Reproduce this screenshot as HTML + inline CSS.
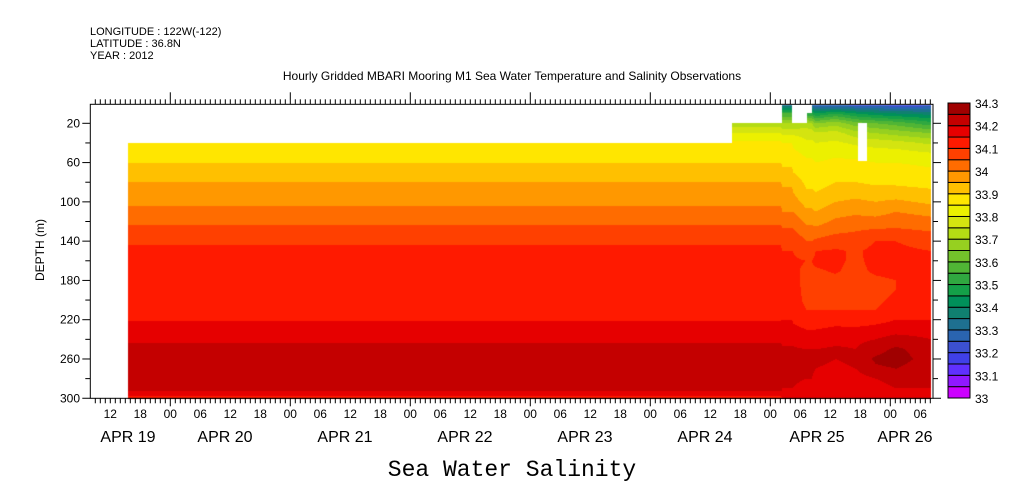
<!DOCTYPE html>
<html><head><meta charset="utf-8"><style>
body{margin:0;background:#fff;width:1009px;height:504px;overflow:hidden;position:relative;font-family:"Liberation Sans",sans-serif}
canvas,svg{position:absolute;left:0;top:0}
</style></head><body>
<canvas id="cv" width="1009" height="504"></canvas>
<svg id="sv" width="1009" height="504"></svg>
<script>
// ---- data ----
const depthNodes=[0,10,20,30,40,50,60,70,80,90,100,110,120,130,140,150,160,170,180,190,200,210,220,230,240,250,260,270,280,290,300];
const levelColors=["#cc00ff","#9018ff","#6030ff","#4040e8","#3c50d0","#2a64b0","#1e7090","#108070","#00905a","#14a048","#30a840","#50b535","#73c22b","#96d020","#b4dc14","#d4e410","#ecf000","#ffe600","#ffc000","#ff9800","#ff6c00","#ff4000","#ff1a00","#e60000","#c40000","#a00000"];
const levelMin=33.0, levelStep=0.05;
const cbLabels=["33","33.1","33.2","33.3","33.4","33.5","33.6","33.7","33.8","33.9","34","34.1","34.2","34.3"];
const profBase=[null,null,null,null,33.86,33.88,33.90,33.925,33.95,33.97,33.99,34.013,34.04,34.066,34.097,34.105,34.115,34.12,34.125,34.13,34.135,34.14,34.148,34.17,34.195,34.21,34.22,34.225,34.23,34.23,34.12];
const profS1=[null,null,33.72,33.80,33.86,33.88,33.90,33.925,33.95,33.97,33.99,34.013,34.04,34.066,34.097,34.105,34.115,34.12,34.125,34.13,34.135,34.14,34.148,34.17,34.195,34.21,34.22,34.225,34.23,34.23,34.12];
const profP1=[33.3,33.55,33.7,33.79,33.85,33.87,33.89,33.91,33.94,33.96,33.98,34.0,34.03,34.06,34.09,34.1,34.11,34.115,34.12,34.125,34.13,34.14,34.15,34.17,34.19,34.205,34.21,34.21,34.21,34.2,34.16];
const profP1b=[null,null,33.7,33.79,33.84,33.86,33.88,33.9,33.93,33.95,33.975,34.0,34.03,34.06,34.09,34.1,34.105,34.105,34.11,34.115,34.12,34.13,34.14,34.165,34.19,34.205,34.21,34.21,34.21,34.2,34.16];
const prof151a=[null,null,33.72,33.78,33.81,33.84,33.86,33.875,33.89,33.905,33.93,33.96,33.99,34.02,34.05,34.08,34.1,34.095,34.09,34.09,34.09,34.1,34.12,34.15,34.17,34.2,34.21,34.21,34.2,34.18,34.16];
const prof151b=[null,33.5,33.72,33.78,33.81,33.84,33.86,33.875,33.89,33.905,33.93,33.96,33.99,34.02,34.05,34.08,34.1,34.095,34.09,34.09,34.09,34.1,34.12,34.15,34.17,34.2,34.21,34.21,34.2,34.18,34.16];
const prof152=[33.25,33.5,33.7,33.78,33.81,33.84,33.86,33.875,33.89,33.905,33.93,33.96,33.99,34.02,34.05,34.08,34.1,34.095,34.09,34.09,34.09,34.1,34.12,34.15,34.17,34.2,34.21,34.21,34.2,34.18,34.16];
const prof155=[33.22,33.45,33.65,33.76,33.80,33.83,33.85,33.86,33.88,33.9,33.92,33.95,33.98,34.02,34.06,34.1,34.11,34.095,34.085,34.085,34.09,34.1,34.12,34.15,34.18,34.2,34.21,34.2,34.18,34.16,34.15];
const prof159=[33.2,33.5,33.68,33.77,33.81,33.84,33.86,33.88,33.9,33.92,33.95,33.98,34.01,34.04,34.08,34.105,34.11,34.105,34.09,34.085,34.09,34.1,34.13,34.16,34.19,34.205,34.2,34.19,34.17,34.16,34.15];
const prof163=[33.2,33.45,33.62,33.72,33.79,33.83,33.86,33.88,33.9,33.93,33.96,33.99,34.02,34.05,34.08,34.095,34.09,34.085,34.08,34.085,34.09,34.1,34.12,34.16,34.19,34.2,34.21,34.2,34.18,34.16,34.15];
const prof167=[33.2,33.42,33.6,33.7,33.78,33.82,33.85,33.87,33.89,33.92,33.95,33.98,34.02,34.06,34.1,34.11,34.115,34.11,34.09,34.085,34.09,34.1,34.13,34.17,34.2,34.23,34.26,34.24,34.2,34.18,34.17];
const prof171=[33.18,33.4,33.58,33.68,33.77,33.82,33.85,33.87,33.89,33.92,33.96,34.0,34.03,34.06,34.1,34.11,34.12,34.115,34.1,34.1,34.11,34.12,34.15,34.18,34.22,34.26,34.27,34.25,34.22,34.2,34.18];
const prof179=[33.2,33.38,33.52,33.65,33.74,33.8,33.84,33.86,33.88,33.91,33.94,33.98,34.02,34.05,34.08,34.1,34.11,34.11,34.11,34.11,34.11,34.12,34.15,34.18,34.2,34.22,34.23,34.22,34.21,34.2,34.18];
// hours since APR 19 00:00
const colTimes=[15.5,136.3,136.31,146.2,146.3,148.4,148.5,151.2,151.3,152.3,153.1,157.1,161.1,165.1,169.1,176.2];
const colProfiles=[profBase,profBase,profS1,profS1,profP1,profP1,profP1b,prof151a,prof151b,prof152,prof155,prof159,prof163,prof167,prof171,prof179];
const gaps=[[161.5,163.3,20,58]];
const hourLabels=["12","18","00","06","12","18","00","06","12","18","00","06","12","18","00","06","12","18","00","06","12","18","00","06","12","18","00","06"];
const hourLabelStart=12;
const dayLabels=["APR 19","APR 20","APR 21","APR 22","APR 23","APR 24","APR 25","APR 26"];
const dayLabelX=[128,225,345,465,585,705,817,905];
const depthTicks=[20,60,100,140,180,220,260,300];

// ---- axes ----
const X0=90.3,X1=933,Y0=104.3,Y1=398.3;
const PXH=5.0;
const xOf=t=>170.3+(t-24)*PXH;
const tOf=x=>24+(x-170.3)/PXH;
const yOf=d=>123.3+(d-20)*0.982;
const dOf=y=>20+(y-123.3)/0.982;

// ---- heatmap ----
const ctx=document.getElementById('cv').getContext('2d');
function val(t,d){
  if(t<colTimes[0]||t>colTimes[colTimes.length-1])return null;
  for(const g of gaps){if(t>=g[0]&&t<=g[1]&&d>=g[2]&&d<=g[3])return null;}
  d=Math.max(0,Math.min(300,d));
  let j=0;while(j<colTimes.length-2&&t>colTimes[j+1])j++;
  let i=Math.min(Math.floor(d/10),depthNodes.length-2);if(i<0)i=0;
  const a=colProfiles[j],b=colProfiles[j+1];
  const v00=a[i],v01=a[i+1],v10=b[i],v11=b[i+1];
  if(v00==null||v01==null||v10==null||v11==null)return null;
  const fd=(d-depthNodes[i])/10, ft=(t-colTimes[j])/(colTimes[j+1]-colTimes[j]);
  const va=v00+(v01-v00)*fd, vb=v10+(v11-v10)*fd;
  return va+(vb-va)*ft;
}
for(let x=Math.floor(X0)+1;x<X1;x++){
  const t=tOf(x+0.5);
  let runC=null,runY=0;
  for(let y=Math.floor(Y0)+1;y<=Y1;y++){
    const v=val(t,dOf(y+0.5));
    let c=null;
    if(v!=null){let k=Math.floor((v-levelMin)/levelStep);k=Math.max(0,Math.min(25,k));c=levelColors[k];}
    if(c!==runC){if(runC){ctx.fillStyle=runC;ctx.fillRect(x,runY,1,y-runY);}runC=c;runY=y;}
  }
  if(runC){ctx.fillStyle=runC;ctx.fillRect(x,runY,1,Math.ceil(Y1)-runY);}
}

// ---- svg ----
const sv=document.getElementById('sv');
const NS="http://www.w3.org/2000/svg";
function mk(tag,attrs,txt){const e=document.createElementNS(NS,tag);for(const k in attrs)e.setAttribute(k,attrs[k]);if(txt!=null)e.textContent=txt;sv.appendChild(e);return e;}
let e;
e=mk('rect',{x:X0,y:Y0,width:X1-X0,height:Y1-Y0,fill:'none',stroke:'#000','stroke-width':1});

for(let h=9;h<=176;h++){
  const x=xOf(h);if(x<X0||x>X1)continue;
  const day=h%24===0;
  e=mk('line',{x1:x,x2:x,y1:Y1,y2:Y1+(day?8:5),stroke:'#000','stroke-width':1});
  
  e=mk('line',{x1:x,x2:x,y1:Y0,y2:Y0-(day?12:5),stroke:'#000','stroke-width':1});
  
}
hourLabels.forEach((s,i)=>{
  const x=xOf(hourLabelStart+i*6);
  e=mk('text',{x:x,y:418,'font-size':12,'text-anchor':'middle',fill:'#000'},s);
  
});
dayLabels.forEach((s,i)=>{
  e=mk('text',{x:dayLabelX[i],y:442,'font-size':16,'text-anchor':'middle',fill:'#000'},s);
  
});
for(let d=20;d<=300;d+=20){
  const y=yOf(d);const major=depthTicks.includes(d);
  e=mk('line',{x1:X0-(major?8:5),x2:X0,y1:y,y2:y,stroke:'#000'});
  
  e=mk('line',{x1:X1,x2:X1+(major?8:5),y1:y,y2:y,stroke:'#000'});
  
}
depthTicks.forEach(d=>{
  e=mk('text',{x:80,y:yOf(d)+4,'font-size':12,'text-anchor':'end',fill:'#000'},String(d));
  
});
e=mk('text',{x:44,y:250,'font-size':12,'text-anchor':'middle',transform:'rotate(-90 44 250)',fill:'#000'},'DEPTH (m)');

const CB0=103,CB1=398,cbh=(CB1-CB0)/levelColors.length;
levelColors.forEach((c,k)=>{
  e=mk('rect',{x:948,y:CB1-(k+1)*cbh,width:22,height:cbh,fill:c,stroke:'#000','stroke-width':1});
  
});
cbLabels.forEach((s,i)=>{
  e=mk('text',{x:975,y:CB1-i*2*cbh+5,'font-size':12,fill:'#000'},s);
  
});
[["LONGITUDE : 122W(-122)",35],["LATITUDE : 36.8N",47],["YEAR : 2012",59]].forEach(a=>{
  e=mk('text',{x:90,y:a[1],'font-size':11,fill:'#000'},a[0]);
  
});
e=mk('text',{x:512,y:80,'font-size':12,'text-anchor':'middle',fill:'#000'},'Hourly Gridded MBARI Mooring M1 Sea Water Temperature and Salinity Observations');

e=mk('text',{x:512,y:476,'font-size':23,'text-anchor':'middle','font-family':'Liberation Mono, monospace',fill:'#000'},'Sea Water Salinity');

</script>
</body></html>
